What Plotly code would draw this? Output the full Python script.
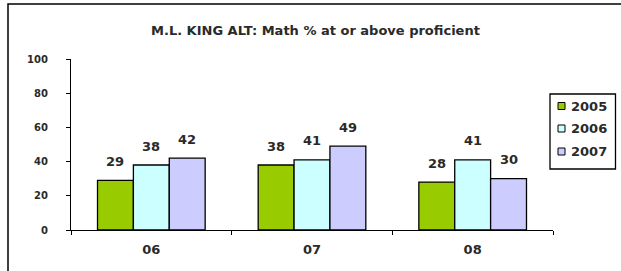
import plotly.graph_objects as go

categories = ["06", "07", "08"]
series_names = ["2005", "2006", "2007"]
values_2005 = [29, 38, 28]
values_2006 = [38, 41, 41]
values_2007 = [42, 49, 30]
y_ticks = [0, 20, 40, 60, 80, 100]
title_text = "M.L. KING ALT: Math % at or above proficient"

series_values = [values_2005, values_2006, values_2007]
colors = ["#99CC00", "#CCFFFF", "#CCCCFF"]

W, H = 621, 271
L, R, T, B = 71, 68, 59, 41
pw = W - L - R
ph = H - T - B
BARGAP = 0.33
FONT = "DejaVu Sans"
TXT = "#2a2a2a"


def px(x):
    return (x - L) / pw


def py(y):
    return (H - B - y) / ph


bar_w = pw / len(categories) * (1 - BARGAP) / len(series_names)

fig = go.Figure()
annotations = []
shapes = []
for i, (name, vals, col) in enumerate(zip(series_names, series_values, colors)):
    fig.add_trace(go.Bar(
        x=categories, y=vals, name=name,
        marker=dict(color=col, line=dict(color="black", width=1.3)),
        showlegend=False, hoverinfo="skip",
    ))
    for ci, v in enumerate(vals):
        annotations.append(dict(
            x=ci, y=v, xref="x", yref="y", text=str(v), showarrow=False,
            xshift=(i - 1) * bar_w, yshift=19, yanchor="middle",
            font=dict(family=FONT, size=13, color=TXT, weight="bold"),
        ))

# custom legend
leg_x0, leg_x1, leg_y0, leg_y1 = 550, 615.5, 94, 169
shapes.append(dict(type="rect", xref="paper", yref="paper",
                   x0=px(leg_x0), x1=px(leg_x1), y0=py(leg_y1), y1=py(leg_y0),
                   line=dict(color="black", width=1.3), fillcolor="white"))
item_y = [106, 128.5, 151.5]
for name, col, yc in zip(series_names, colors, item_y):
    shapes.append(dict(type="rect", xref="paper", yref="paper",
                       x0=px(558), x1=px(565), y0=py(yc + 3.5), y1=py(yc - 3.5),
                       line=dict(color="black", width=1), fillcolor=col))
    annotations.append(dict(x=px(571), y=py(yc), xref="paper", yref="paper",
                            text=name, showarrow=False, xanchor="left", yanchor="middle",
                            xshift=-2,
                            font=dict(family=FONT, size=13, color=TXT, weight="bold")))

# outer frame (extends past right and bottom edges)
shapes.append(dict(type="rect", xref="paper", yref="paper",
                   x0=px(8), x1=px(660), y0=py(300), y1=py(4),
                   line=dict(color="black", width=1.5), layer="below"))

# title
annotations.append(dict(x=px(315), y=py(30), xref="paper", yref="paper",
                        text=title_text, showarrow=False, xanchor="center", yanchor="middle",
                        font=dict(family=FONT, size=13, color=TXT, weight="bold")))

fig.update_layout(
    width=W, height=H,
    margin=dict(l=L, r=R, t=T, b=B, pad=0),
    paper_bgcolor="white", plot_bgcolor="white",
    barmode="group", bargap=BARGAP, bargroupgap=0,
    annotations=annotations, shapes=shapes,
    xaxis=dict(type="category", showline=True, linecolor="black", linewidth=1.3,
               ticks="outside", tickson="boundaries", ticklen=4, tickcolor="black",
               showgrid=False, fixedrange=True,
               tickfont=dict(family=FONT, size=13, color=TXT, weight="bold"),
               ticklabelstandoff=7),
    yaxis=dict(range=[0, 100], tickvals=y_ticks, showline=True, linecolor="black",
               linewidth=1.3, ticks="outside", ticklen=4, tickcolor="black",
               showgrid=False, zeroline=False, fixedrange=True,
               tickfont=dict(family=FONT, size=10, color=TXT, weight="bold"),
               ticklabelstandoff=16),
)

fig.write_html("out.html", config={"displayModeBar": False},
               post_script="document.body.style.margin='0';document.body.style.overflow='hidden';")
